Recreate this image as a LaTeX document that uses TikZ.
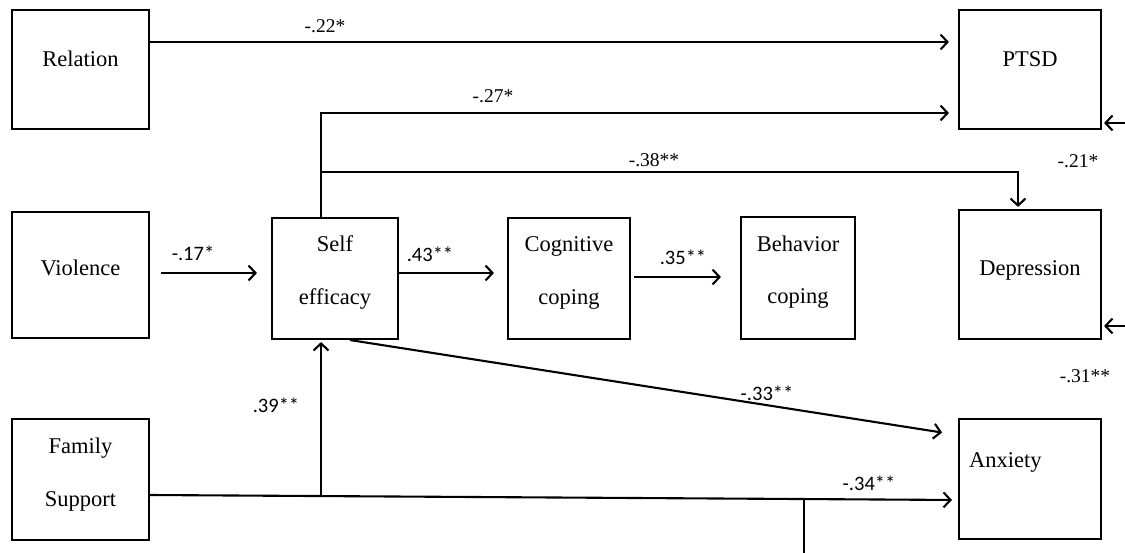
\documentclass[tikz,border=0pt]{standalone}
\usepackage{fontspec}
\setmainfont{Liberation Serif}
\newfontfamily\labsans{Carlito}
\usetikzlibrary{arrows.meta}
\tikzset{
  box/.style={draw, line width=2.1pt, inner sep=0pt},
  btxt/.style={anchor=base, inner sep=0pt, font=\fontsize{22.5}{26}\selectfont},
  slab/.style={anchor=base, inner sep=0pt, font=\fontsize{19.5}{22}\selectfont},
  klab/.style={anchor=base, inner sep=0pt, font=\labsans\fontsize{20.5}{24}\selectfont},
  conn/.style={line width=2.1pt},
  arr/.style={conn, -{Straight Barb[length=7pt,width=15pt]}},
}
\begin{document}
\begin{tikzpicture}[x=1pt, y=-1pt]
\useasboundingbox (0,0) rectangle (1125,553);
% boxes
\node[box, minimum width=137pt, minimum height=119pt] (rel) at (80.5,69.5) {};
\node[box, minimum width=142pt, minimum height=119pt] (ptsd) at (1030,69.5) {};
\node[box, minimum width=137pt, minimum height=126pt] (vio) at (80.5,275) {};
\node[box, minimum width=126pt, minimum height=121pt] (self) at (335,278.5) {};
\node[box, minimum width=122pt, minimum height=121pt] (cog) at (569,278.5) {};
\node[box, minimum width=114pt, minimum height=122pt] (beh) at (798,278) {};
\node[box, minimum width=142pt, minimum height=129pt] (dep) at (1030,274.5) {};
\node[box, minimum width=137pt, minimum height=121pt] (fam) at (80.5,479.5) {};
\node[box, minimum width=142pt, minimum height=120pt] (anx) at (1030,479) {};
% box texts
\node[btxt] (trel) at (80.5,67) {Relation};
\node[btxt] (tptsd) at (1030,67) {PTSD};
\node[btxt] (tvio) at (80.5,276) {Violence};
\node[btxt] (tself1) at (335,252) {Self};
\node[btxt] (tself2) at (335,305) {efficacy};
\node[btxt] (tcog1) at (569,252) {Cognitive};
\node[btxt] (tcog2) at (569,305) {coping};
\node[btxt] (tbeh1) at (798,252) {Behavior};
\node[btxt] (tbeh2) at (798,304) {coping};
\node[btxt] (tdep) at (1030,276) {Depression};
\node[btxt] (tfam1) at (80.5,453) {Family};
\node[btxt] (tfam2) at (80.5,506) {Support};
\node[btxt, anchor=base west] (tanx) at (969,467) {Anxiety};
% junction / free-end coordinates
\coordinate (j1) at (321,172);
\coordinate (j2) at (321,495.5);
\coordinate (j3) at (804,499.5);
\coordinate (e3) at (804,553);
\coordinate (rp) at (1125,123);
\coordinate (rd) at (1125,326);
% connectors
\draw[arr, shorten >=9pt] (rel.east |- 0,42) -- (ptsd.west |- 0,42);
\draw[arr, shorten >=9pt] ([xshift=-14pt]self.north) |- (ptsd.west |- 0,113);
\draw[arr, shorten >=2pt] (j1) -| ([xshift=-12pt]dep.north);
\draw[arr, shorten >=2pt] (rp) -- (ptsd.east |- rp);
\draw[arr, shorten >=2pt] (rd) -- (dep.east |- rd);
\draw[arr, shorten <=11pt, shorten >=14pt] (vio.east |- 0,273) -- (self.west |- 0,273);
\draw[arr, shorten >=13pt] (self.east |- 0,273) -- (cog.west |- 0,273);
\draw[arr, shorten <=3pt, shorten >=19pt] (cog.east |- 0,277) -- (beh.west |- 0,277);
\draw[arr, shorten >=16pt] ([xshift=15pt]self.south) -- (anx.west |- 0,435);
\draw[arr, shorten >=6pt] (fam.east |- 0,495) -- (anx.west |- 0,500);
\draw[arr, shorten >=2pt] (j2) -- ([xshift=-14pt]self.south);
\draw[conn] (j3) -- (e3);
% labels
\node[slab] (l22) at (325,33) {-.22*};
\node[slab] (l27) at (493,103) {-.27*};
\node[slab] (l38) at (654,167) {-.38**};
\node[slab] (l21) at (1078,168) {-.21*};
\node[slab] (l31) at (1085,383) {-.31**};
\node[klab] (l17) at (193,261) {-.17*};
\node[klab] (l43) at (430,262) {.43**};
\node[klab] (l35) at (683,265) {.35**};
\node[klab] (l39) at (276,413) {.39**};
\node[klab] (l33) at (767,400) {-.33**};
\node[klab] (l34) at (869,490) {-.34**};
\end{tikzpicture}
\end{document}
